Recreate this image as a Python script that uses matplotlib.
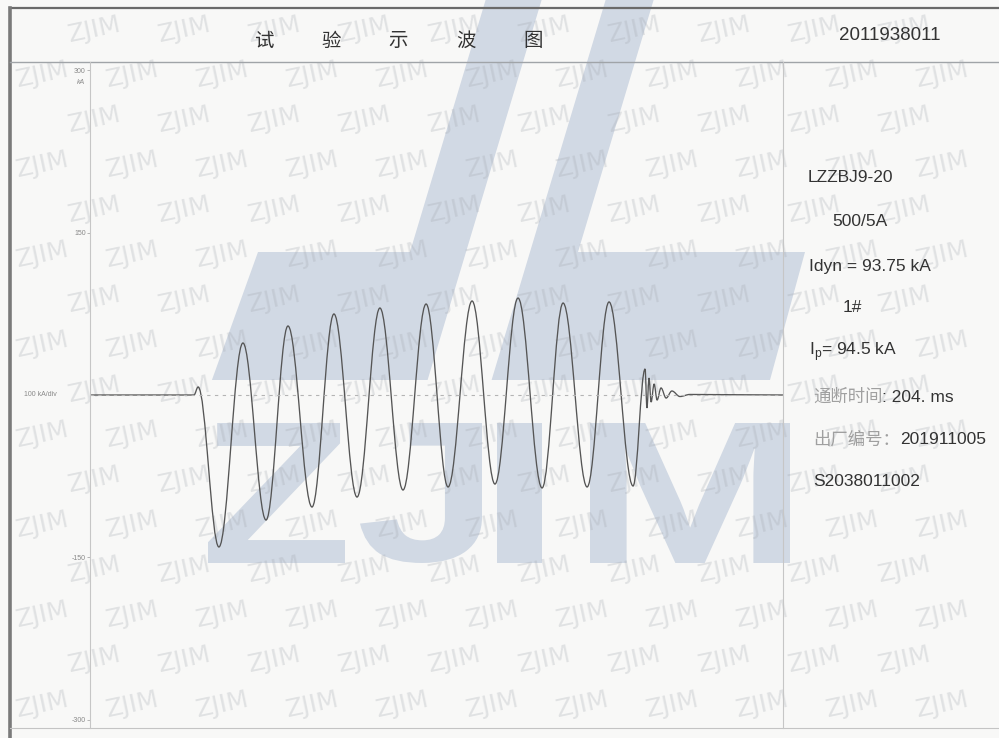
import numpy as np
import matplotlib
matplotlib.use("Agg")
import matplotlib.pyplot as plt
from matplotlib.path import Path
from matplotlib.patches import PathPatch, Polygon
from matplotlib.textpath import TextPath
from matplotlib.font_manager import FontProperties
from matplotlib.transforms import Affine2D

plt.rcParams['font.family'] = ['Liberation Sans', 'Noto Sans CJK SC', 'DejaVu Sans']

# turning points of the recorded current (time in ms, current in kA)
turn_t = [0, 45.0, 46.8, 55.8, 66.2, 76.2, 85.7, 96.1, 105.6, 115.6, 125.5,
          135.5, 145.5, 155.0, 165.4, 175.3, 185.3, 195.7, 204.8, 215.2,
          224.7, 235.1, 240.3, 241.1, 242.0, 242.9, 244.2, 245.5, 247.2,
          249.4, 251.9, 255.4, 259.7, 300]
turn_v = [0, 0, 7.4, -140.3, 48.0, -115.4, 63.7, -103.4, 74.8, -94.2, 80.3,
          -87.7, 84.0, -84.9, 86.8, -82.2, 89.5, -85.8, 84.9, -84.9,
          85.9, -84.0, 24.0, -12.0, 15.7, -6.5, 10.2, -4.6, 6.5,
          -2.8, 3.7, -1.4, 0.5, 0]

y_ticks = [300, 150, -150, -300]
y_tick_labels = ['300', '150', '-150', '-300']
title_chars = ['试', '验', '示', '波', '图']
report_no = '2011938011'
info_labels = ['', '', '', '', '', '通断时间', '出厂编号：', '']
info_values = ['LZZBJ9-20', '500/5A', 'Idyn = 93.75 kA', '1#',
               r'I$_\mathregular{p}$= 94.5 kA', ': 204. ms', '201911005',
               'S2038011002']

# layout (pixels from the top-left corner)
W, H = 999, 738
info_x = [808, 832, 809, 843, 809, 813, 813, 813]
info_y = [178, 222, 266, 308, 352, 397, 439, 482]
paper = '#f8f8f7'
logo_blue = '#d1d9e4'

fig = plt.figure(figsize=(W / 100, H / 100), dpi=100, facecolor=paper)

# background layer in pixel coordinates
bg = fig.add_axes([0, 0, 1, 1], zorder=0)
bg.set_xlim(0, W)
bg.set_ylim(H, 0)
bg.axis('off')
bg.set_facecolor(paper)

# big logo: band with two slanted strokes, gap running through the band
s = 0.3
shape_a = [(258, 252), (410, 252), (410 + 252 * s, 0), (466 + 252 * s, 0),
           (466 - 128 * s, 380), (258 - 128 * 0.36, 380)]
shape_b = [(530 - 128 * s, 380), (530 + 252 * s, 0), (578 + 252 * s, 0),
           (578, 252), (805, 252), (770, 380)]
for pts in (shape_a, shape_b):
    bg.add_patch(Polygon(pts, closed=True, facecolor=logo_blue,
                         edgecolor='none', zorder=1))

bold = FontProperties(family='Liberation Sans', weight='bold')
letter_boxes = [('Z', 208, 345), ('J', 360, 482), ('I', 497, 542), ('M', 590, 790)]
for ch, x0, x1 in letter_boxes:
    tp = TextPath((0, 0), ch, size=100, prop=bold)
    ext = tp.get_extents()
    tr = (Affine2D().translate(-ext.x0, -ext.y0)
          .scale((x1 - x0) / ext.width, -140 / ext.height)
          .translate(x0, 563))
    bg.add_patch(PathPatch(tr.transform_path(tp), facecolor=logo_blue,
                           edgecolor='none', zorder=1))

# tiled watermark (only whole tiles)
for r, yy in enumerate(np.arange(30, H, 45)):
    shift = 0 if r % 2 == 0 else 38
    for xx in np.arange(-85, W + 60, 90) + shift:
        if 34 <= xx <= W - 34 and yy <= H - 18:
            bg.text(xx, yy, 'ZJIM', fontsize=18, color='#a4a8b0',
                    alpha=0.28, rotation=12, rotation_mode='anchor',
                    ha='center', va='center', family='DejaVu Sans', zorder=2)

# frame lines
bg.plot([10, W], [8, 8], color='#6a6a6a', lw=1.6, zorder=3)
bg.plot([10, 10], [8, H], color='#7a7a7a', lw=2.6, zorder=3)
bg.plot([10, W], [62, 62], color='#a0a4a8', lw=1.0, zorder=3)
bg.plot([10, W], [728, 728], color='#c4c4c4', lw=0.8, zorder=3)

# title row
for ch, xx in zip(title_chars, np.linspace(264, 533, len(title_chars))):
    bg.text(xx, 41, ch, fontsize=14, color='#333333', ha='center',
            va='center', family=['Noto Sans CJK SC'], zorder=4)
bg.text(890, 35, report_no, fontsize=13.5, color='#333333', ha='center',
        va='center', zorder=4)

# right panel
for lab, val, xx, yy in zip(info_labels, info_values, info_x, info_y):
    if lab:
        t1 = bg.text(xx, yy, lab, fontsize=12.5, color='#a0a0a0', ha='left',
                     va='center', zorder=4)
        bg.annotate(val, xy=(1, 0.5), xycoords=t1, fontsize=12.5,
                    color='#333333', ha='left', va='center', zorder=4)
    else:
        bg.text(xx, yy, val, fontsize=12.5, color='#333333', ha='left',
                va='center', zorder=4)

# axis captions
bg.text(85, 82, 'kA', fontsize=5, color='#888888', ha='right', va='center',
        style='italic', zorder=4)
bg.text(57, 395, '100 kA/div', fontsize=5, color='#888888', ha='right',
        va='center', zorder=4)

# oscillogram
ax = fig.add_axes([90 / W, (H - 728) / H, 693 / W, 666 / H], zorder=1)
ax.patch.set_visible(False)
ax.set_xlim(0, 300)
ax.set_ylim(-307.4, 307.4)
for side in ('top', 'bottom'):
    ax.spines[side].set_visible(False)
for side in ('left', 'right'):
    ax.spines[side].set_color('#c6c6c6')
    ax.spines[side].set_linewidth(0.8)
ax.set_xticks([])
ax.set_yticks(y_ticks)
ax.set_yticklabels(y_tick_labels)
ax.tick_params(axis='y', length=2, width=0.6, color='#aaaaaa', labelsize=5,
               labelcolor='#888888', pad=1)

ax.axhline(0, color='#b4b4b4', lw=0.8, ls=(0, (3, 4)))

k = 0.363
verts = [(turn_t[0], turn_v[0])]
codes = [Path.MOVETO]
for i in range(len(turn_t) - 1):
    dt = turn_t[i + 1] - turn_t[i]
    verts += [(turn_t[i] + k * dt, turn_v[i]),
              (turn_t[i + 1] - k * dt, turn_v[i + 1]),
              (turn_t[i + 1], turn_v[i + 1])]
    codes += [Path.CURVE4] * 3
ax.add_patch(PathPatch(Path(verts, codes), facecolor='none',
                       edgecolor='#555555', lw=0.95))

fig.savefig('out.png', dpi=100, facecolor=paper)
